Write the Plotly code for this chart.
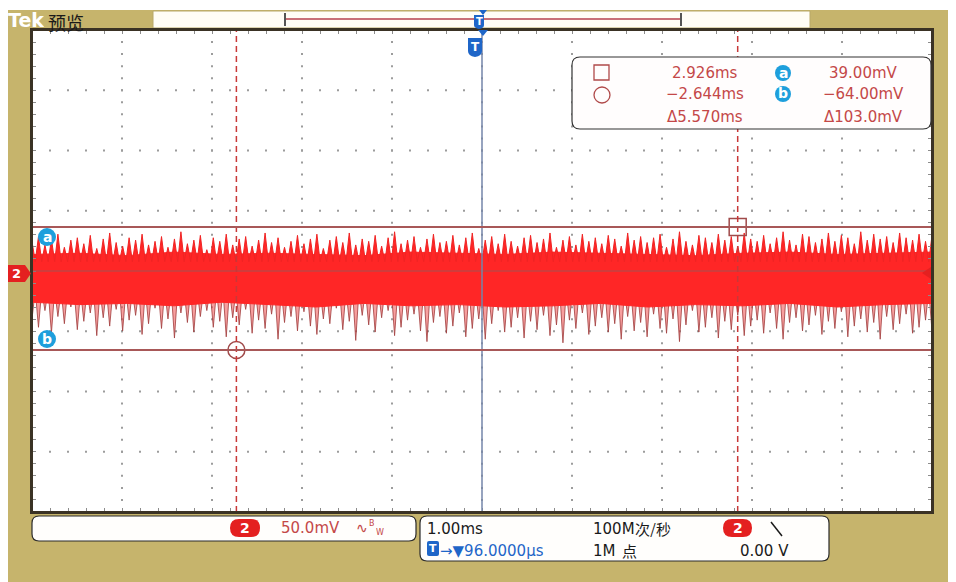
import numpy as np
import plotly.graph_objects as go

# ---------------- data read from the screen ----------------
# upper peaks of the noisy channel-2 trace (mV), left -> right
hi_peaks = [27, 31, 24, 29, 33, 22, 28, 30, 25, 32, 21, 29, 34, 26, 23, 30, 28, 33, 24, 27,
            31, 22, 29, 35, 25, 28, 32, 20, 30, 27, 33, 24, 29, 31, 23, 28, 34, 26, 30, 22,
            27, 32, 25, 29, 33, 21, 28, 31, 26, 34, 24, 29, 27, 32, 23, 30, 35, 25, 28, 31,
            22, 29, 33, 26, 27, 32, 24, 30, 34, 21, 28, 31, 25, 33, 27, 23, 30, 32, 26, 29,
            34, 22, 28, 31, 24, 33, 27, 30, 25, 32, 29, 23, 34, 28, 31, 26, 30, 33, 22, 29,
            35, 27, 24, 32, 30, 26, 33, 28, 31, 23, 34, 29, 27, 32, 25, 30, 35, 28, 24, 33,
            31, 26, 29, 34, 27, 32, 30, 25, 35, 28, 33, 29, 31, 26, 34, 30, 28, 33, 27, 32]
# lower peaks of the same trace (mV)
lo_peaks = [-38, -45, -31, -50, -36, -42, -28, -47, -40, -33, -52, -37, -44, -30, -48, -39, -35, -51, -42, -29,
            -46, -38, -54, -33, -41, -49, -36, -31, -45, -40, -53, -37, -43, -30, -50, -39, -46, -34, -55, -41,
            -36, -48, -32, -44, -51, -38, -42, -29, -47, -40, -56, -35, -43, -49, -37, -31, -52, -45, -39, -34,
            -48, -57, -41, -36, -50, -44, -33, -53, -46, -38, -55, -42, -31, -49, -45, -37, -54, -40, -47, -35,
            -52, -43, -58, -39, -46, -33, -51, -44, -37, -49, -42, -55, -36, -48, -41, -53, -34, -46, -50, -38,
            -57, -43, -31, -49, -45, -37, -54, -40, -47, -35, -52, -44, -39, -50, -33, -46, -55, -41, -37, -48,
            -43, -35, -51, -40, -46, -32, -53, -44, -38, -49, -41, -55, -36, -47, -42, -34, -50, -45, -39, -48]
# dense (solid) part of the trace (mV)
env_hi = [16, 17, 15, 18, 16, 17, 16, 15, 18, 17, 16, 18, 17, 16, 15, 17, 18, 16, 17, 18]
env_lo = [-24, -26, -25, -27, -24, -26, -28, -25, -27, -26, -28, -27, -25, -28, -26, -27, -25, -28, -26, -25]

cursor_t_ms = [2.926, -2.644]   # square cursor, circle cursor
cursor_v_mV = [39.00, -64.00]   # cursor a, cursor b
ch_scale = "50.0mV"
time_scale = "1.00ms"
sample_rate = "100M"
record_len = "1M"
trig_level = "0.00 V"
trig_delay = "96.0000µs"

t_start, t_end = -4.915, 5.085      # ms across the 10 divisions
v_bottom, v_top = -199.7, 204.0     # mV across the 8 divisions

# ---------------- geometry helpers (coordinates = screenshot pixels) ----------------
OFF = 8                     # page body margin
W, H = 956 - OFF, 582 - OFF
L, T, R, B = 32, 30, 932, 512
PW, PH = R - L, B - T
FONT = "DejaVu Sans"
CJK = "Noto Sans CJK SC"
OLIVE = "#c6b46c"
RED_TXT = "#c44848"
BLUE = "#1f66c8"
CYAN = "#1e9fdc"


def fx(px):
    return (px - L) / PW


def fy(py):
    return (B - py) / PH


AX, AY = fx(0), fy(0)
shapes, annotations = [], []


def pix(**kw):
    d = dict(xref="paper", yref="paper", xsizemode="pixel", ysizemode="pixel",
             xanchor=AX, yanchor=AY)
    d.update(kw)
    return d


def rect(x0, y0, x1, y1, fill, line=None, lw=0, layer="below"):
    shapes.append(pix(type="rect", x0=x0, x1=x1, y0=-y0, y1=-y1, fillcolor=fill,
                      line=dict(color=line or fill, width=lw), layer=layer))


def poly(pts, fill, line=None, lw=0, layer="above"):
    p = "M" + " L".join(f"{x},{-y}" for x, y in pts) + " Z"
    shapes.append(pix(type="path", path=p, fillcolor=fill,
                      line=dict(color=line or fill, width=lw), layer=layer))


def rrect(x0, y0, x1, y1, r, fill, line, lw=1.2, layer="above"):
    Y0, Y1 = -y0, -y1
    p = (f"M{x0+r},{Y0} L{x1-r},{Y0} Q{x1},{Y0} {x1},{Y0-r} L{x1},{Y1+r} "
         f"Q{x1},{Y1} {x1-r},{Y1} L{x0+r},{Y1} Q{x0},{Y1} {x0},{Y1+r} "
         f"L{x0},{Y0-r} Q{x0},{Y0} {x0+r},{Y0} Z")
    shapes.append(pix(type="path", path=p, fillcolor=fill,
                      line=dict(color=line, width=lw), layer=layer))


def circle(cx, cy, r, fill, line=None, lw=0, layer="above"):
    shapes.append(pix(type="circle", x0=cx - r, x1=cx + r, y0=-(cy - r), y1=-(cy + r),
                      fillcolor=fill, line=dict(color=line or fill, width=lw), layer=layer))


def hline(x0, x1, y, color, lw=1, dash="solid", layer="above"):
    shapes.append(pix(type="line", x0=x0, x1=x1, y0=-y, y1=-y,
                      line=dict(color=color, width=lw, dash=dash), layer=layer))


def txt(x, y, s, size=14, color="#222", xanchor="center", family=FONT, h=None):
    a = dict(x=fx(x), y=fy(y), xref="paper", yref="paper", text=s,
             showarrow=False, xanchor=xanchor, yanchor="middle",
             font=dict(size=size, color=color, family=family))
    if h:
        a["height"] = h
    annotations.append(a)


# ---------------- background / frame ----------------
rect(7, 10, 956, 582, OLIVE)
rect(L, T, R, B, "#ffffff")
# top record bar
rect(153, 11, 810, 28, "#fffdf6", line="#b8a868", lw=1)
hline(286, 680, 19, "#c87078", lw=2)
rect(284, 13, 286, 26, "#555555", layer="above")
rect(680, 13, 682, 26, "#555555", layer="above")

# ---------------- traces ----------------
def zigzag(peaks, base):
    n = len(peaks)
    t = np.linspace(t_start, t_end, n)
    dt = (t_end - t_start) / (n - 1)
    xs, ys = [], []
    for ti, p in zip(t, peaks):
        xs += [ti - dt / 2, ti]
        ys += [base, p]
    xs.append(t_end)
    ys.append(base)
    return xs, ys


fig = go.Figure()

# grid dots (division units on the main axes)
gx, gy = [], []
for i in range(1, 10):
    for k in range(0, 41):
        gx.append(i)
        gy.append(k * 0.2)
for j in range(1, 8):
    for k in range(0, 51):
        gx.append(k * 0.2)
        gy.append(j)
fig.add_trace(go.Scatter(x=gx, y=gy, mode="markers", hoverinfo="skip",
                         marker=dict(symbol="square", size=2, color="#9c9c9c"),
                         xaxis="x", yaxis="y", showlegend=False))

lx, ly = zigzag(lo_peaks, -14)
fig.add_trace(go.Scatter(x=lx, y=ly, mode="lines", fill="tozeroy",
                         fillcolor="rgba(240,80,80,0.55)",
                         line=dict(color="rgba(160,60,60,0.8)", width=1),
                         xaxis="x2", yaxis="y2", showlegend=False, hoverinfo="skip"))
te = np.linspace(t_start, t_end, len(env_hi))
fig.add_trace(go.Scatter(x=te, y=env_hi, mode="lines", line=dict(color="#ff2626", width=1),
                         xaxis="x2", yaxis="y2", showlegend=False, hoverinfo="skip"))
fig.add_trace(go.Scatter(x=te, y=env_lo, mode="lines", fill="tonexty", fillcolor="#ff2626",
                         line=dict(color="#ff2626", width=1),
                         xaxis="x2", yaxis="y2", showlegend=False, hoverinfo="skip"))
hx, hy = zigzag(hi_peaks, 10)
fig.add_trace(go.Scatter(x=hx, y=hy, mode="lines", fill="tozeroy", fillcolor="#ff2626",
                         line=dict(color="#f02424", width=1),
                         xaxis="x2", yaxis="y2", showlegend=False, hoverinfo="skip"))

# centre cross lines
shapes.append(dict(type="line", xref="paper", yref="paper", x0=0, x1=1, y0=0.5, y1=0.5,
                   line=dict(color="rgba(150,90,90,0.9)", width=1), layer="above"))
shapes.append(dict(type="line", xref="paper", yref="paper", x0=0.5, x1=0.5, y0=0, y1=1,
                   line=dict(color="#7486aa", width=1.5), layer="above"))

# cursors
for tv in cursor_t_ms:
    shapes.append(dict(type="line", xref="x2", yref="paper", x0=tv, x1=tv, y0=0, y1=1,
                       line=dict(color="#c83838", width=1.5, dash="6px,4px"), layer="above"))
for vv in cursor_v_mV:
    shapes.append(dict(type="line", xref="paper", yref="y2", x0=0, x1=1, y0=vv, y1=vv,
                       line=dict(color="#a85858", width=2), layer="above"))
fig.add_trace(go.Scatter(x=cursor_t_ms, y=cursor_v_mV, mode="markers",
                         marker=dict(symbol=["square-open", "circle-open"], size=17,
                                     color="#a04a4a", line=dict(width=1.5, color="#a04a4a")),
                         xaxis="x2", yaxis="y2", showlegend=False, hoverinfo="skip"))

# frame
rect(L, T, R, B, "rgba(0,0,0,0)", line="#3a3224", lw=2, layer="above")

# ---------------- markers on the screen ----------------
poly([(7, 265), (25, 265), (31, 273.5), (25, 282), (7, 282)], "#e42020")
txt(16, 273.5, "<b>2</b>", 13, "#ffffff")
circle(47, 237, 9, CYAN)
txt(47, 236.5, "<b>a</b>", 14, "#ffffff")
circle(47, 339, 9, CYAN)
txt(47, 338.5, "<b>b</b>", 14, "#ffffff")
poly([(922, 273), (931, 267), (931, 279)], "#e42020")
poly([(478, 30), (488, 30), (483, 36)], BLUE)
shapes.append(pix(type="path", path="M468,-38 L482,-38 L482,-51 Q482,-56 475,-57 Q468,-56 468,-51 Z",
                  fillcolor=BLUE, line=dict(color=BLUE, width=0), layer="above"))
txt(475, 46.5, "<b>T</b>", 12, "#ffffff")
poly([(479, 10), (487, 10), (483, 15)], BLUE)
shapes.append(pix(type="path", path="M474,-15 L484,-15 L484,-25 Q484,-28 479,-29 Q474,-28 474,-25 Z",
                  fillcolor=BLUE, line=dict(color=BLUE, width=0), layer="above"))
txt(479, 21, "<b>T</b>", 10, "#ffffff")

# ---------------- Tek header ----------------
txt(6, 19.5, "<b>Tek</b>", 19, "#ffffff", xanchor="left", family="DejaVu Sans", h=20)
txt(46, 21.5, "预览", 18, "#1a1a1a", xanchor="left", family=CJK, h=20)

# ---------------- cursor readout box ----------------
rrect(572, 57, 931, 129, 8, "#fffdfd", "#333333", 1.2)
t1, t2 = cursor_t_ms
v1, v2 = cursor_v_mV
rect(594, 65, 609, 80, "rgba(0,0,0,0)", line="#b04a4a", lw=1.3, layer="above")
shapes.append(pix(type="circle", x0=594, x1=610, y0=-87, y1=-103,
                  line=dict(color="#b04a4a", width=1.3), layer="above"))
txt(705, 73, f"{t1:.3f}ms", 15, RED_TXT)
txt(705, 94, f"{t2:.3f}ms".replace("-", "−"), 15, RED_TXT)
txt(705, 117, f"Δ{t1 - t2:.3f}ms", 15, RED_TXT)
circle(783, 73, 8, CYAN)
txt(783, 72.5, "<b>a</b>", 14, "#ffffff")
circle(783, 94, 8, CYAN)
txt(783, 93.5, "<b>b</b>", 14, "#ffffff")
txt(863, 73, f"{v1:.2f}mV", 15, RED_TXT)
txt(863, 94, f"{v2:.2f}mV".replace("-", "−"), 15, RED_TXT)
txt(863, 117, f"Δ{v1 - v2:.1f}mV", 15, RED_TXT)

# ---------------- bottom status ----------------
rrect(32, 516, 416, 541, 7, "#fffefc", "#2a2a2a", 1.2)
rrect(230, 519, 260, 537, 9, "#e42020", "#e42020", 0)
txt(245, 528, "<b>2</b>", 14, "#ffffff")
txt(279, 528, ch_scale, 15, RED_TXT, xanchor="left")
txt(362, 528, "∿", 14, RED_TXT, h=16)
txt(372, 523, "B", 8, RED_TXT, h=9)
txt(380, 532, "W", 8, RED_TXT, h=9)

rrect(420, 516, 829, 561, 7, "#fffefc", "#2a2a2a", 1.2)
txt(425, 528, time_scale, 15, "#1a1a1a", xanchor="left", h=17)
txt(591, 528, sample_rate, 15, "#1a1a1a", xanchor="left", h=17)
txt(633, 528, "次/秒", 15, "#1a1a1a", xanchor="left", family=CJK, h=17)
rrect(723, 519, 752, 537, 9, "#e42020", "#e42020", 0)
txt(737.5, 528, "<b>2</b>", 14, "#ffffff")
shapes.append(pix(type="line", x0=771, x1=782, y0=-522, y1=-536,
                  line=dict(color="#1a1a1a", width=1.5), layer="above"))
txt(591, 550, record_len, 15, "#1a1a1a", xanchor="left", h=17)
txt(620, 550, "点", 15, "#1a1a1a", xanchor="left", family=CJK, h=17)
txt(791, 550, trig_level, 15, "#1a1a1a", xanchor="right", h=17)
rrect(427, 541, 439, 556, 2, BLUE, BLUE, 0)
txt(433, 548.5, "<b>T</b>", 11, "#ffffff")
txt(438, 550, "→▼" + trig_delay, 15, BLUE, xanchor="left", h=17)

# ---------------- layout ----------------
fig.update_layout(
    width=W, height=H,
    margin=dict(l=L - OFF, r=W - (R - OFF), t=T - OFF, b=H - (B - OFF)),
    paper_bgcolor="#ffffff", plot_bgcolor="#ffffff",
    showlegend=False,
    xaxis=dict(range=[0, 10], showgrid=False, zeroline=False, showticklabels=False,
               ticks="inside", tick0=0, dtick=0.2, ticklen=4, tickcolor="#8c8c8c",
               showline=True, linecolor="#3a3224", linewidth=2, mirror="ticks", fixedrange=True),
    yaxis=dict(range=[0, 8], showgrid=False, zeroline=False, showticklabels=False,
               ticks="inside", tick0=0, dtick=0.2, ticklen=4, tickcolor="#8c8c8c",
               showline=True, linecolor="#3a3224", linewidth=2, mirror="ticks", fixedrange=True),
    xaxis2=dict(range=[t_start, t_end], overlaying="x", anchor="y2", visible=False, fixedrange=True),
    yaxis2=dict(range=[v_bottom, v_top], overlaying="y", anchor="x2", visible=False, fixedrange=True),
    shapes=shapes,
    annotations=annotations,
)

fig.write_html("out.html")
